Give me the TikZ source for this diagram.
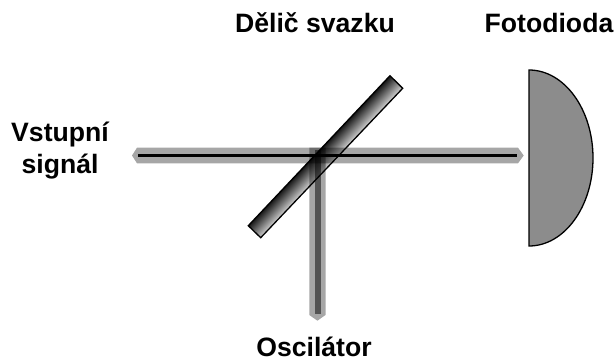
\documentclass[tikz,border=0pt]{standalone}
\usepackage{fontspec}
\setmainfont{Liberation Sans}
\usetikzlibrary{calc}
\tikzset{
  lbl/.style={font=\fontsize{26.6}{32.7}\selectfont\bfseries, align=center, inner sep=0pt, text=black, anchor=base},
  beamband/.style={fill=black, fill opacity=.35, draw=none},
  beamcore/.style={line width=2.7pt, draw=black},
  coreveil/.style={line width=6pt, draw=black, opacity=.5},
  mirror/.style={draw=black, line width=1.3pt},
  diode/.style={draw=black, line width=1.3pt, fill=black!45}
}
\begin{document}
\begin{tikzpicture}[x=1pt,y=-1pt]
\useasboundingbox (0,0) rectangle (614,362);
% mirror
\coordinate (mA) at (390,75.7);
\coordinate (mB) at (402.7,88.3);
\coordinate (mC) at (260.7,237.7);
\coordinate (mD) at (248.3,225.7);
\begin{scope}
\clip (mA) -- (mB) -- (mC) -- (mD) -- cycle;
\begin{scope}[transform canvas={shift={(325.4,156.7)}, rotate=46.6}]
\shade[top color=black!92, bottom color=black!18] (-120,-9) rectangle (120,9);
\end{scope}
\end{scope}
\draw[mirror] (mA) -- (mB) -- (mC) -- (mD) -- cycle;
% horizontal beam
\coordinate (hL) at (138,155.5);
\coordinate (hR) at (516.7,155.5);
\fill[beamband] (132,155.5) -- (137,147.7) -- (518,147.7) -- (523.7,155.5) -- (518,163.3) -- (137,163.3) -- cycle;
% vertical beam
\coordinate (vT) at (317.5,150);
\coordinate (vB) at (317.5,314);
\fill[beamband] (309.3,147.7) -- (325.5,147.7) -- (325.5,315) -- (317.4,320.7) -- (309.3,315) -- cycle;
\draw[coreveil] (vT) -- (vB);
\draw[beamcore] (hL) -- (hR);
% photodiode
\draw[diode] (529,70) arc[start angle=90, end angle=-90, x radius=64pt, y radius=88pt] -- cycle;
% labels
\node[lbl] (split) at (315,32.7) {Dělič svazku};
\node[lbl] (pd) at (549,32.7) {Fotodioda};
\node[lbl, anchor=center] (in) at (60,150.5) {Vstupní\\signál};
\node[lbl] (osc) at (314,356) {Oscilátor};
\end{tikzpicture}
\end{document}
